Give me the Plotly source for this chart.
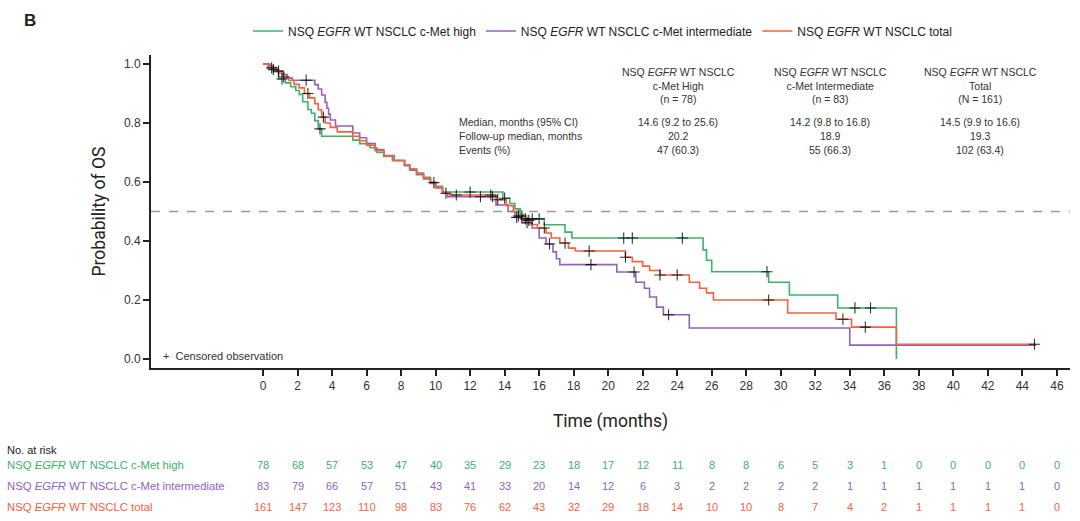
import numpy as np
import plotly.graph_objects as go

# ---------------- data ----------------
series_names = [
    "NSQ <i>EGFR</i> WT NSCLC c-Met high",
    "NSQ <i>EGFR</i> WT NSCLC c-Met intermediate",
    "NSQ <i>EGFR</i> WT NSCLC total",
]

high_t = [0, 0.3, 0.6, 0.9, 1.3, 1.6, 1.9, 2.1, 2.3, 2.6, 2.8, 3.0, 3.2, 3.4, 5.2, 5.6, 6.2, 6.6, 7.0, 7.5,
          8.2, 8.5, 8.9, 9.3, 9.7, 10.0, 10.4, 13.9, 14.3, 14.6, 14.9, 15.1, 16.3, 17.5, 17.9, 25.5, 25.7,
          26.0, 29.3, 30.5, 33.3, 36.7]
high_s = [1.0, 0.987, 0.974, 0.949, 0.936, 0.923, 0.91, 0.897, 0.872, 0.846, 0.833, 0.808, 0.78, 0.755,
          0.742, 0.73, 0.716, 0.70, 0.687, 0.673, 0.658, 0.644, 0.63, 0.616, 0.60, 0.585, 0.566, 0.545,
          0.527, 0.509, 0.49, 0.475, 0.455, 0.43, 0.41, 0.37, 0.335, 0.296, 0.26, 0.217, 0.173, 0.0]
high_end = 36.7
high_cens = [0.5, 1.1, 3.3, 12.0, 14.0, 15.2, 15.6, 16.0, 20.9, 21.4, 24.3, 29.2, 34.3, 35.2]

inter_t = [0, 0.4, 0.8, 1.1, 1.4, 1.7, 3.0, 3.2, 3.4, 3.6, 3.7, 3.8, 3.9, 4.2, 5.2, 5.6, 6.0, 6.5, 7.0,
           7.6, 8.2, 8.5, 8.9, 9.3, 9.7, 10.0, 10.4, 10.7, 13.5, 14.2, 14.6, 15.0, 15.6, 16.0, 16.4, 16.8,
           17.0, 17.2, 20.5, 21.6, 22.1, 22.4, 22.8, 23.2, 24.7, 34.0]
inter_s = [1.0, 0.988, 0.976, 0.964, 0.952, 0.945, 0.93, 0.915, 0.895, 0.87, 0.85, 0.83, 0.81, 0.79,
           0.766, 0.75, 0.73, 0.71, 0.69, 0.673, 0.655, 0.64, 0.625, 0.61, 0.595, 0.58, 0.562, 0.55,
           0.522, 0.50, 0.48, 0.462, 0.444, 0.41, 0.39, 0.363, 0.34, 0.32, 0.295, 0.26, 0.24, 0.21,
           0.176, 0.15, 0.105, 0.047]
inter_end = 44.8
inter_cens = [0.9, 2.5, 10.6, 12.6, 13.3, 14.7, 15.3, 16.6, 19.0, 21.5, 23.5]

total_t = [0, 0.3, 0.6, 0.9, 1.2, 1.5, 1.8, 2.1, 2.4, 2.7, 3.0, 3.2, 3.4, 3.6, 3.9, 4.3, 5.2, 5.6, 6.0,
           6.5, 7.0, 7.6, 8.2, 8.5, 8.9, 9.3, 9.7, 10.0, 10.4, 10.8, 13.5, 14.1, 14.5, 14.8, 15.1, 15.5,
           15.9, 16.4, 16.7, 17.2, 17.7, 18.1, 21.0, 21.4, 22.0, 22.4, 23.0, 24.7, 25.3, 25.7, 26.1,
           30.4, 33.2, 34.1, 36.7]
total_s = [1.0, 0.994, 0.981, 0.969, 0.956, 0.944, 0.931, 0.919, 0.90, 0.885, 0.865, 0.845, 0.82, 0.80,
           0.785, 0.77, 0.755, 0.74, 0.724, 0.706, 0.688, 0.673, 0.657, 0.643, 0.628, 0.613, 0.598,
           0.583, 0.564, 0.556, 0.54, 0.52, 0.50, 0.485, 0.47, 0.456, 0.444, 0.427, 0.41, 0.393, 0.376,
           0.366, 0.345, 0.33, 0.315, 0.30, 0.285, 0.26, 0.24, 0.224, 0.20, 0.156, 0.135, 0.108, 0.05]
total_end = 44.8
total_cens = [0.6, 1.2, 2.6, 3.5, 9.9, 11.2, 13.2, 13.6, 14.8, 15.0, 15.4, 16.3, 17.5, 18.9, 21.0, 23.0,
              24.0, 29.3, 33.6, 34.9, 44.7]

risk_times = list(range(0, 47, 2))
risk_high = [78, 68, 57, 53, 47, 40, 35, 29, 23, 18, 17, 12, 11, 8, 8, 6, 5, 3, 1, 0, 0, 0, 0, 0]
risk_inter = [83, 79, 66, 57, 51, 43, 41, 33, 20, 14, 12, 6, 3, 2, 2, 2, 2, 1, 1, 1, 1, 1, 1, 0]
risk_total = [161, 147, 123, 110, 98, 83, 76, 62, 43, 32, 29, 18, 14, 10, 10, 8, 7, 4, 2, 1, 1, 1, 1, 0]

risk_labels = [
    "NSQ <i>EGFR</i> WT NSCLC c-Met high",
    "NSQ <i>EGFR</i> WT NSCLC c-Met intermediate",
    "NSQ <i>EGFR</i> WT NSCLC total",
]

table_headers = [
    "NSQ <i>EGFR</i> WT NSCLC<br>c-Met High<br>(n = 78)",
    "NSQ <i>EGFR</i> WT NSCLC<br>c-Met Intermediate<br>(n = 83)",
    "NSQ <i>EGFR</i> WT NSCLC<br>Total<br>(N = 161)",
]
table_rows = ["Median, months (95% CI)", "Follow-up median, months", "Events (%)"]
table_values = [
    ["14.6 (9.2 to 25.6)", "14.2 (9.8 to 16.8)", "14.5 (9.9 to 16.6)"],
    ["20.2", "18.9", "19.3"],
    ["47 (60.3)", "55 (66.3)", "102 (63.4)"],
]

# ---------------- styling ----------------
colors = ["#3bb36a", "#9362bf", "#f4623e"]
FONT = "Liberation Sans, Arial, sans-serif"

# plot area in pixels
W, H = 1080, 521
L, R, T, B = 151, 10, 55, 153
PW, PH = W - L - R, H - T - B


def py(p):
    return (H - B - p) / PH


def px(p):
    return (p - L) / PW


fig = go.Figure()

# reference dashed line at 0.5
fig.add_shape(type="line", xref="paper", yref="y", x0=0, x1=1, y0=0.5, y1=0.5,
              line=dict(color="#9a9a9a", width=1.5, dash="dash"), layer="below")

curves = [(high_t, high_s, high_end, high_cens),
          (inter_t, inter_s, inter_end, inter_cens),
          (total_t, total_s, total_end, total_cens)]

for (t, s, end, cens), name, col in zip(curves, series_names, colors):
    xs = list(t) + [end]
    ys = list(s) + [s[-1]]
    fig.add_trace(go.Scatter(x=xs, y=ys, mode="lines", line=dict(color=col, width=1.6, shape="hv"),
                             name=name, hoverinfo="skip"))

for (t, s, end, cens), col in zip(curves, colors):
    ta = np.array(t)
    sa = np.array(s)
    idx = np.searchsorted(ta, np.array(cens), side="right") - 1
    fig.add_trace(go.Scatter(x=cens, y=sa[idx], mode="markers", showlegend=False,
                             marker=dict(symbol="cross-thin", size=8, color="rgba(0,0,0,0.8)",
                                         line=dict(color="rgba(0,0,0,0.8)", width=1.1)),
                             hoverinfo="skip"))

ann = []
ann.append(dict(text="<b>B</b>", x=px(22), y=py(20), xref="paper", yref="paper", showarrow=False,
                font=dict(size=17, color="#222", family=FONT), xanchor="left", yanchor="middle"))

# summary table
col_x = [678, 830, 980]
for cx, h in zip(col_x, table_headers):
    ann.append(dict(text=h, x=px(cx), y=py(64), xref="paper", yref="paper", showarrow=False,
                    font=dict(size=10.5, color="#333", family=FONT), xanchor="center", yanchor="top",
                    align="center"))
row_y = [122, 136, 150]
for ry, lab, vals in zip(row_y, table_rows, table_values):
    ann.append(dict(text=lab, x=px(457), y=py(ry), xref="paper", yref="paper", showarrow=False,
                    font=dict(size=10.5, color="#333", family=FONT), xanchor="left", yanchor="middle"))
    for cx, v in zip(col_x, vals):
        ann.append(dict(text=v, x=px(cx), y=py(ry), xref="paper", yref="paper", showarrow=False,
                        font=dict(size=10.5, color="#333", family=FONT), xanchor="center",
                        yanchor="middle"))

ann.append(dict(text="+  Censored observation", x=px(161), y=py(356), xref="paper", yref="paper",
                showarrow=False, font=dict(size=11, color="#333", family=FONT), xanchor="left",
                yanchor="middle"))

# risk table
ann.append(dict(text="No. at risk", x=px(5), y=py(450), xref="paper", yref="paper", showarrow=False,
                font=dict(size=11, color="#222", family=FONT), xanchor="left", yanchor="middle"))
for ry, lab, vals, col in zip([465, 486, 507], risk_labels, [risk_high, risk_inter, risk_total], colors):
    ann.append(dict(text=lab, x=px(5), y=py(ry), xref="paper", yref="paper", showarrow=False,
                    font=dict(size=11.3, color=col, family=FONT), xanchor="left", yanchor="middle"))
    for tt, v in zip(risk_times, vals):
        ann.append(dict(text=str(v), x=tt, y=py(ry), xref="x", yref="paper", showarrow=False,
                        font=dict(size=11, color=col, family=FONT), xanchor="center",
                        yanchor="middle"))

x0 = -6.49
x1 = 46.76
fig.update_layout(
    width=W, height=H,
    margin=dict(l=L, r=R, t=T, b=B),
    plot_bgcolor="white", paper_bgcolor="white",
    font=dict(family=FONT, color="#333"),
    showlegend=True,
    legend=dict(orientation="h", x=px(248), y=py(31), xanchor="left", yanchor="middle",
                font=dict(size=12, color="#222", family=FONT), itemwidth=30,
                bgcolor="rgba(0,0,0,0)", tracegroupgap=0),
    xaxis=dict(range=[x0, x1], tickvals=risk_times, ticktext=[str(v) for v in risk_times],
               showgrid=False, zeroline=False, showline=True, linecolor="#222", linewidth=2,
               ticks="outside", ticklen=6, tickwidth=2, tickcolor="#222",
               tickfont=dict(size=12, color="#333", family=FONT),
               title=dict(text="Time (months)", font=dict(size=17.5, color="#222", family="Roboto"),
                          standoff=22)),
    yaxis=dict(range=[-0.0305, 1.0305], tickvals=[0, 0.2, 0.4, 0.6, 0.8, 1.0],
               ticktext=["0.0", "0.2", "0.4", "0.6", "0.8", "1.0"],
               showgrid=False, zeroline=False, showline=True, linecolor="#222", linewidth=2,
               ticks="outside", ticklen=6, tickwidth=2, tickcolor="#222",
               tickfont=dict(size=12, color="#333", family=FONT),
               title=dict(text="Probability of OS", font=dict(size=17.5, color="#222", family="Roboto"),
                          standoff=14)),
    annotations=ann,
)

fig.write_html("out.html")
